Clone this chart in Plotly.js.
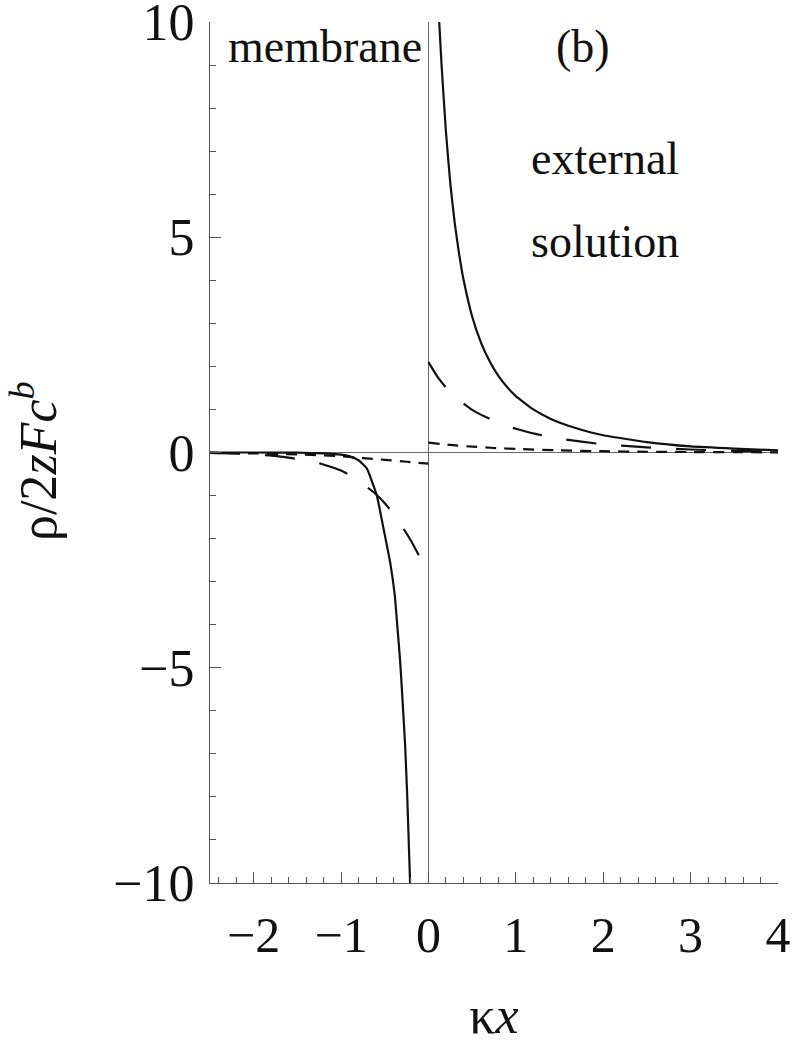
<!DOCTYPE html>
<html>
<head>
<meta charset="utf-8">
<script src="https://cdn.plot.ly/plotly-3.0.1.min.js"></script>
<style>
  html, body { margin: 0; padding: 0; background: #fff; }
  #chart { width: 812px; height: 1044px; }
</style>
</head>
<body>
<div id="chart"></div>
<script>
// ---- data ----
// solid curve, external solution side (x > 0)
const xSolidOut = [0.123, 0.15, 0.2, 0.25, 0.3, 0.35, 0.4, 0.5, 0.6, 0.7, 0.8, 0.9, 1.0, 1.2, 1.4, 1.6, 1.8, 2.0, 2.5, 3.0, 3.5, 4.0];
const ySolidOut = [10.0, 9.0, 7.45, 6.25, 5.34, 4.62, 4.03, 3.16, 2.56, 2.12, 1.78, 1.52, 1.31, 1.00, 0.78, 0.62, 0.50, 0.40, 0.24, 0.14, 0.09, 0.05];
// solid curve, membrane side (x < 0)
const xSolidMem = [-2.5, -2.0, -1.5, -1.2, -1.0, -0.9, -0.8, -0.706, -0.592, -0.515, -0.44, -0.386, -0.354, -0.324, -0.298, -0.267, -0.242, -0.21];
const ySolidMem = [0, 0, -0.005, -0.02, -0.05, -0.09, -0.18, -0.37, -0.99, -1.76, -2.53, -3.31, -4.09, -4.85, -5.71, -6.80, -8.04, -10.0];
// long-dashed curve
const xLongOut = [0, 0.1, 0.2, 0.3, 0.4, 0.5, 0.6, 0.8, 1.0, 1.25, 1.5, 2.0, 2.5, 3.0, 3.5, 4.0];
const yLongOut = [2.10, 1.77, 1.51, 1.30, 1.14, 0.99, 0.88, 0.69, 0.55, 0.42, 0.32, 0.19, 0.12, 0.07, 0.04, 0.03];
const xLongMem = [-2.5, -2.0, -1.75, -1.5, -1.25, -1.0, -0.85, -0.75, -0.6, -0.5, -0.4, -0.3, -0.2, -0.1, 0];
const yLongMem = [-0.01, -0.04, -0.08, -0.15, -0.25, -0.42, -0.59, -0.73, -0.97, -1.18, -1.42, -1.72, -2.05, -2.42, -2.72];
// short-dashed curve
const xShortOut = [0, 0.25, 0.5, 0.75, 1.0, 1.5, 2.0, 2.5, 3.0, 3.5, 4.0];
const yShortOut = [0.23, 0.175, 0.136, 0.105, 0.083, 0.050, 0.030, 0.018, 0.011, 0.007, 0.004];
const xShortMem = [-2.5, -2.0, -1.5, -1.0, -0.75, -0.5, -0.25, 0];
const yShortMem = [-0.01, -0.02, -0.045, -0.085, -0.13, -0.17, -0.215, -0.26];

// labels
const regionLabels = ['membrane', '(b)', 'external', 'solution'];
const xTitle = 'κ<i>x</i>';
const yTitle = 'ρ/2<i>zFc</i><sup><i>b</i></sup>';

// ---- styles ----
const FONT = '"Liberation Serif", "Times New Roman", serif';
const INK = '#111111';
const AX = '#555555';

function curve(x, y, dash) {
  return {
    x: x, y: y, type: 'scatter', mode: 'lines', showlegend: false, hoverinfo: 'skip',
    line: { color: INK, width: 2.2, dash: dash, shape: 'spline', smoothing: 0.4 }
  };
}

const traces = [
  curve(xSolidOut, ySolidOut, 'solid'),
  curve(xSolidMem, ySolidMem, 'solid'),
  curve(xLongOut, yLongOut, '30px,25px'),
  curve(xLongMem, yLongMem, '30px,25px'),
  curve(xShortOut, yShortOut, '11px,8px'),
  curve(xShortMem, yShortMem, '11px,8px')
];

const annPos = [
  { x: -1.18, y: 9.43 },
  { x: 1.77, y: 9.43 },
  { x: 2.02, y: 6.83 },
  { x: 2.02, y: 4.9 }
];

const annotations = regionLabels.map((t, i) => ({
  text: t, x: annPos[i].x, y: annPos[i].y, xref: 'x', yref: 'y',
  showarrow: false, xanchor: 'center', yanchor: 'middle',
  font: { family: FONT, size: 46, color: INK }
}));
// y-axis title drawn as a rotated annotation for exact placement
annotations.push({
  text: yTitle, xref: 'paper', yref: 'paper', x: -0.31, y: 0.49,
  xanchor: 'center', yanchor: 'middle', textangle: -90, showarrow: false,
  font: { family: FONT, size: 52, color: INK }
});

const layout = {
  width: 812, height: 1044,
  paper_bgcolor: '#ffffff', plot_bgcolor: '#ffffff',
  margin: { l: 210, r: 34, t: 22, b: 161 },
  font: { family: FONT, color: INK },
  xaxis: {
    range: [-2.5, 4], dtick: 1, tick0: 0,
    showgrid: false, zeroline: true, zerolinecolor: '#666', zerolinewidth: 1,
    showline: true, linecolor: AX, linewidth: 1.2,
    ticks: 'inside', ticklen: 11, tickwidth: 1, tickcolor: AX,
    minor: { dtick: 0.2, tick0: 0, ticks: 'inside', ticklen: 6, tickwidth: 1, tickcolor: AX, showgrid: false },
    tickfont: { family: FONT, size: 50, color: INK },
    ticklabelstandoff: 8,
    ticklabeloverflow: 'allow',
    title: { text: xTitle, font: { family: FONT, size: 52, color: INK }, standoff: 40 },
    fixedrange: true
  },
  yaxis: {
    range: [-10, 10], dtick: 5, tick0: 0,
    showgrid: false, zeroline: true, zerolinecolor: '#666', zerolinewidth: 1,
    showline: true, linecolor: AX, linewidth: 1.2,
    ticks: 'inside', ticklen: 11, tickwidth: 1, tickcolor: AX,
    minor: { dtick: 1, tick0: 0, ticks: 'inside', ticklen: 6, tickwidth: 1, tickcolor: AX, showgrid: false },
    tickfont: { family: FONT, size: 52, color: INK },
    ticklabelstandoff: 4,
    ticklabeloverflow: 'allow',
    fixedrange: true
  },
  annotations: annotations
};

Plotly.newPlot('chart', traces, layout, { displayModeBar: false, staticPlot: true });
</script>
</body>
</html>
